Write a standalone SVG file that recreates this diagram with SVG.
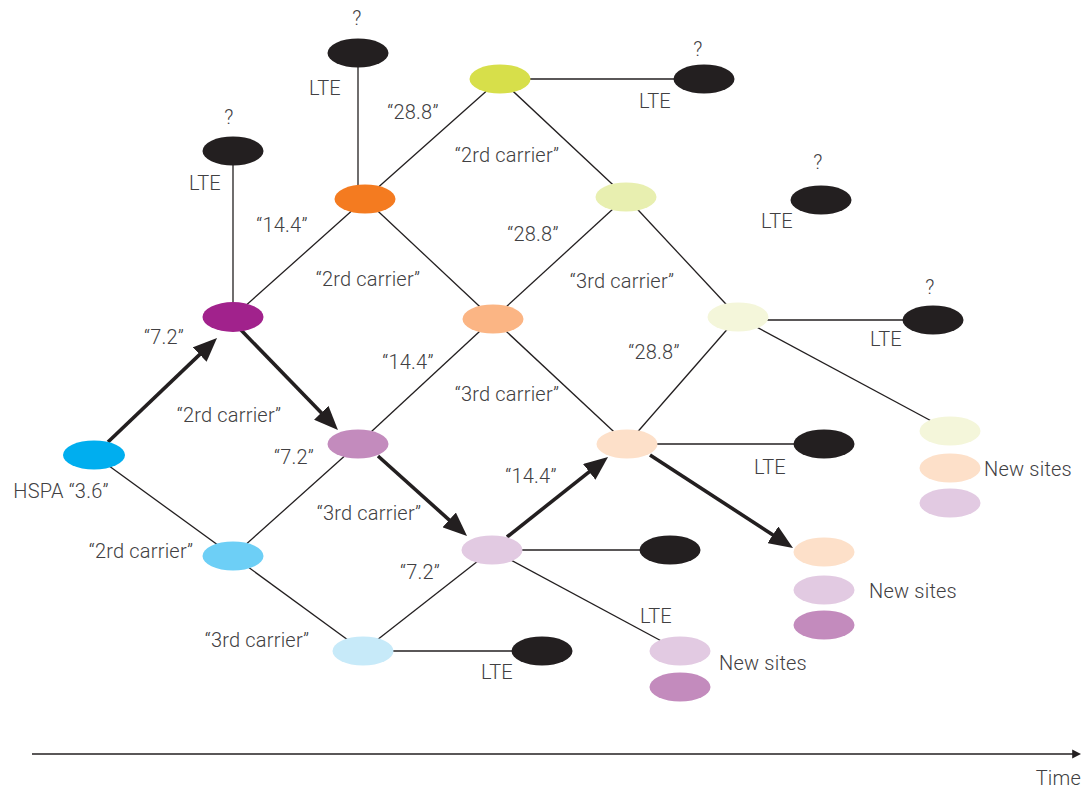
<svg xmlns="http://www.w3.org/2000/svg" width="1086" height="789" viewBox="0 0 1086 789">
  <defs>
    <style>
      .lnk { stroke: #231f20; stroke-width: 1.3; fill: none; }
      .path { stroke: #231f20; stroke-width: 3.6; fill: none; marker-end: url(#head); }
      .lbl { font-family: Roboto, "Liberation Sans", sans-serif; font-weight: 300; font-size: 20px; letter-spacing: 0.2px; fill: #414042; text-anchor: middle; }
      .lte { fill: #231f20; }
    </style>
    <marker id="head" viewBox="0 0 24 20" refX="14" refY="10" markerWidth="24" markerHeight="20" markerUnits="userSpaceOnUse" orient="auto">
      <path d="M0,0 L24,10 L0,20 Z" fill="#231f20"/>
    </marker>
    <marker id="axisHead" viewBox="0 0 10 10" refX="2" refY="5" markerWidth="9" markerHeight="10" markerUnits="userSpaceOnUse" orient="auto">
      <path d="M0,0 L10,5 L0,10 Z" fill="#231f20"/>
    </marker>
  </defs>

  <!-- connectors -->
  <g id="connectors">
    <line class="lnk" x1="94" y1="455" x2="233" y2="556"/>
    <line class="lnk" x1="233" y1="317" x2="233" y2="151"/>
    <line class="lnk" x1="233" y1="317" x2="365" y2="199"/>
    <line class="lnk" x1="358" y1="53" x2="358" y2="199"/>
    <line class="lnk" x1="365" y1="199" x2="500" y2="79"/>
    <line class="lnk" x1="365" y1="199" x2="493" y2="319"/>
    <line class="lnk" x1="500" y1="79" x2="704" y2="79"/>
    <line class="lnk" x1="500" y1="79" x2="626" y2="197"/>
    <line class="lnk" x1="626" y1="197" x2="493" y2="319"/>
    <line class="lnk" x1="626" y1="197" x2="738" y2="317"/>
    <line class="lnk" x1="738" y1="320" x2="933" y2="320"/>
    <line class="lnk" x1="738" y1="317" x2="950" y2="431"/>
    <line class="lnk" x1="738" y1="317" x2="627" y2="444"/>
    <line class="lnk" x1="493" y1="319" x2="358" y2="444"/>
    <line class="lnk" x1="493" y1="319" x2="627" y2="444"/>
    <line class="lnk" x1="358" y1="444" x2="233" y2="556"/>
    <line class="lnk" x1="627" y1="444" x2="824" y2="444"/>
    <line class="lnk" x1="492" y1="550" x2="670" y2="550"/>
    <line class="lnk" x1="492" y1="550" x2="680" y2="651"/>
    <line class="lnk" x1="492" y1="550" x2="363" y2="651"/>
    <line class="lnk" x1="233" y1="556" x2="363" y2="651"/>
    <line class="lnk" x1="363" y1="651" x2="542" y2="651"/>

    <!-- upgrade route -->
    <line class="path" x1="108" y1="442" x2="209.8" y2="344.9"/>
    <line class="path" x1="241" y1="330" x2="331.0" y2="422.8"/>
    <line class="path" x1="378" y1="456" x2="459.6" y2="529.3"/>
    <line class="path" x1="507" y1="537" x2="600.2" y2="463.2"/>
    <line class="path" x1="650" y1="455" x2="784.6" y2="542.5"/>

    <!-- time axis -->
    <line x1="32" y1="754" x2="1074" y2="754" stroke="#231f20" stroke-width="1.6" marker-end="url(#axisHead)"/>
  </g>

  <!-- nodes -->
  <g id="hspa"><ellipse cx="94" cy="455" rx="31" ry="14.5" fill="#00aeef"/></g>
  <g id="c2-72"><ellipse cx="233" cy="317" rx="30.5" ry="15" fill="#a1228c"/></g>
  <g id="c2-144"><ellipse cx="365" cy="199" rx="30.5" ry="14.5" fill="#f47b20"/></g>
  <g id="c2-288"><ellipse cx="500" cy="79" rx="30.5" ry="14.5" fill="#d7df4a"/></g>
  <g id="c3-288"><ellipse cx="626" cy="197" rx="30.5" ry="14.5" fill="#e8efb0"/></g>
  <g id="c3-144"><ellipse cx="493" cy="319" rx="30.5" ry="14.5" fill="#fbb584"/></g>
  <g id="c4-288"><ellipse cx="738" cy="317" rx="30.5" ry="14.5" fill="#f4f6da"/></g>
  <g id="c3-72"><ellipse cx="358" cy="444" rx="30.5" ry="14.5" fill="#c38bbd"/></g>
  <g id="c4-144"><ellipse cx="627" cy="444" rx="30.5" ry="14.5" fill="#fde0c9"/></g>
  <g id="c4-72"><ellipse cx="492" cy="550" rx="30.5" ry="14.5" fill="#e2cae2"/></g>
  <g id="c2-36"><ellipse cx="233" cy="556" rx="30.5" ry="14.5" fill="#6dcff6"/></g>
  <g id="c3-36"><ellipse cx="363" cy="651" rx="30.5" ry="14.5" fill="#c7eaf9"/></g>

  <g id="lte-1"><ellipse class="lte" cx="233" cy="151" rx="30.5" ry="14.5"/></g>
  <g id="lte-2"><ellipse class="lte" cx="358" cy="53" rx="30.5" ry="14.5"/></g>
  <g id="lte-3"><ellipse class="lte" cx="704" cy="79" rx="30.5" ry="14.5"/></g>
  <g id="lte-4"><ellipse class="lte" cx="821" cy="200" rx="30.5" ry="14.5"/></g>
  <g id="lte-5"><ellipse class="lte" cx="933" cy="320" rx="30.5" ry="14.5"/></g>
  <g id="lte-6"><ellipse class="lte" cx="824" cy="444" rx="30.5" ry="14.5"/></g>
  <g id="lte-7"><ellipse class="lte" cx="670" cy="550" rx="30.5" ry="14.5"/></g>
  <g id="lte-8"><ellipse class="lte" cx="542" cy="651" rx="30.5" ry="14.5"/></g>

  <g id="new-sites-a">
    <ellipse cx="950" cy="431" rx="30.5" ry="14.5" fill="#f4f6da"/>
    <ellipse cx="950" cy="468" rx="30.5" ry="14.5" fill="#fde0c9"/>
    <ellipse cx="950" cy="503" rx="30.5" ry="14.5" fill="#e2cae2"/>
  </g>
  <g id="new-sites-b">
    <ellipse cx="824" cy="552" rx="30.5" ry="14.5" fill="#fde0c9"/>
    <ellipse cx="824" cy="590" rx="30.5" ry="14.5" fill="#e2cae2"/>
    <ellipse cx="824" cy="625" rx="30.5" ry="14.5" fill="#c38bbd"/>
  </g>
  <g id="new-sites-c">
    <ellipse cx="680" cy="651" rx="30.5" ry="14.5" fill="#e2cae2"/>
    <ellipse cx="680" cy="687" rx="30.5" ry="14.5" fill="#c38bbd"/>
  </g>

  <!-- labels -->
  <g id="labels">
    <text class="lbl" x="357" y="25">?</text>
    <text class="lbl" x="325" y="95">LTE</text>
    <text class="lbl" x="413" y="119">“28.8”</text>
    <text class="lbl" x="507" y="162">“2rd carrier”</text>
    <text class="lbl" x="698" y="56">?</text>
    <text class="lbl" x="655" y="108">LTE</text>
    <text class="lbl" x="229" y="124">?</text>
    <text class="lbl" x="205" y="190">LTE</text>
    <text class="lbl" x="282" y="232">“14.4”</text>
    <text class="lbl" x="368" y="286">“2rd carrier”</text>
    <text class="lbl" x="533" y="241">“28.8”</text>
    <text class="lbl" x="622" y="288">“3rd carrier”</text>
    <text class="lbl" x="818" y="169">?</text>
    <text class="lbl" x="777" y="228">LTE</text>
    <text class="lbl" x="930" y="294">?</text>
    <text class="lbl" x="886" y="346">LTE</text>
    <text class="lbl" x="164" y="344">“7.2”</text>
    <text class="lbl" x="408" y="369">“14.4”</text>
    <text class="lbl" x="654" y="359">“28.8”</text>
    <text class="lbl" x="507" y="401">“3rd carrier”</text>
    <text class="lbl" x="229" y="422">“2rd carrier”</text>
    <text class="lbl" x="294" y="464">“7.2”</text>
    <text class="lbl" x="61" y="498">HSPA “3.6”</text>
    <text class="lbl" x="369" y="520">“3rd carrier”</text>
    <text class="lbl" x="531" y="483">“14.4”</text>
    <text class="lbl" x="770" y="474">LTE</text>
    <text class="lbl" x="141" y="558">“2rd carrier”</text>
    <text class="lbl" x="420" y="579">“7.2”</text>
    <text class="lbl" x="656" y="623">LTE</text>
    <text class="lbl" x="257" y="647">“3rd carrier”</text>
    <text class="lbl" x="497" y="679">LTE</text>
    <text class="lbl" x="1028" y="476">New sites</text>
    <text class="lbl" x="913" y="598">New sites</text>
    <text class="lbl" x="763" y="670">New sites</text>
    <text class="lbl" x="1081" y="785" style="text-anchor:end">Time</text>
  </g>
</svg>
